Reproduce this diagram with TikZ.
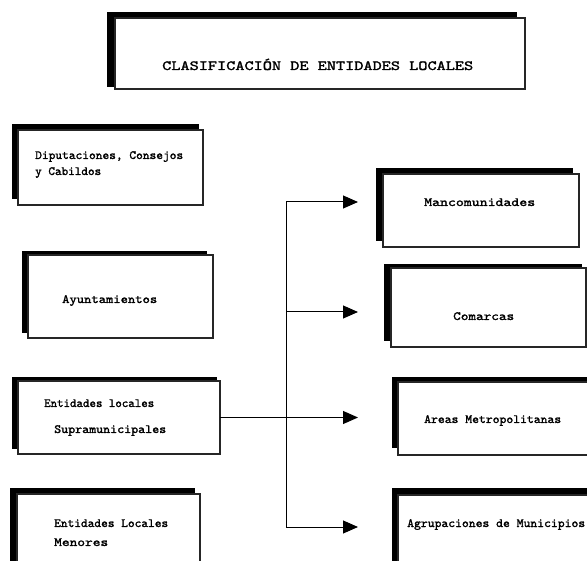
\documentclass[tikz,border=0pt]{standalone}
\usepackage{fontspec}
\newfontfamily\slabfont{lmmono10-regular.otf}[FakeBold=1.6]
\usetikzlibrary{arrows.meta}

% stretch a line of text to a given width (in pt) without changing its height
\newcommand{\fitw}[2]{\resizebox{#1pt}{\height}{#2}}

\tikzset{
  backbar/.style={fill=black, draw=none},
  panel/.style={draw=black!85, line width=1.2pt, fill=white, inner sep=0pt,
                outer sep=0pt, anchor=north west},
  boxtext/.style={font=\slabfont\fontsize{12.5}{15}\selectfont,
                  inner sep=0pt, anchor=base west},
  titletext/.style={font=\slabfont\fontsize{14}{16}\selectfont,
                    inner sep=0pt, anchor=base west},
  link/.style={line width=1pt},
  feed/.style={link, -{Triangle[length=15pt,width=13pt]}},
}

\begin{document}
\begin{tikzpicture}[x=1pt,y=-1pt]
\useasboundingbox (0,0) rectangle (587,561);
\clip (0,0) rectangle (587,561);

% title
\fill[backbar] (107,12) rectangle (517,87);
\node[panel, minimum width=410pt, minimum height=71pt] (title) at (115,18) {};
\node[titletext] (titleT) at (162,70) {\fitw{311}{CLASIFICACIÓN DE ENTIDADES LOCALES}};

% left column
\fill[backbar] (12,124) rectangle (199,199);
\node[panel, minimum width=185pt, minimum height=75pt] (dip) at (18,130) {};
\node[boxtext] (dipA) at (35,159) {\fitw{148}{Diputaciones, Consejos}};
\node[boxtext] (dipB) at (35,175) {\fitw{66}{y Cabildos}};

\fill[backbar] (22,251) rectangle (207,333);
\node[panel, minimum width=185pt, minimum height=83pt] (ayu) at (28,255) {};
\node[boxtext] (ayuT) at (62,303) {\fitw{95}{Ayuntamientos}};

\fill[backbar] (12,377) rectangle (217,449);
\node[panel, minimum width=202pt, minimum height=73pt] (sup) at (18,381) {};
\node[boxtext] (supA) at (44,407) {\fitw{110}{Entidades locales}};
\node[boxtext] (supB) at (54,433) {\fitw{112}{Supramunicipales}};

\fill[backbar] (10,488) rectangle (195,580);
\node[panel, minimum width=183pt, minimum height=96pt] (men) at (17,494) {};
\node[boxtext] (menA) at (54,527) {\fitw{114}{Entidades Locales}};
\node[boxtext] (menB) at (54,546) {\fitw{54}{Menores}};

% right column
\fill[backbar] (376,168) rectangle (573,241);
\node[panel, minimum width=196pt, minimum height=73pt] (man) at (383,174) {};
\node[boxtext] (manT) at (424,206) {\fitw{111}{Mancomunidades}};

\fill[backbar] (384,264) rectangle (582,341);
\node[panel, minimum width=195pt, minimum height=79pt] (com) at (391,268) {};
\node[boxtext] (comT) at (453,320) {\fitw{61}{Comarcas}};

\fill[backbar] (392,377) rectangle (600,448);
\node[panel, minimum width=212pt, minimum height=73pt] (are) at (398,382) {};
\node[boxtext] (areT) at (424,423) {\fitw{137}{Areas Metropolitanas}};

\fill[backbar] (392,488) rectangle (600,580);
\node[panel, minimum width=212pt, minimum height=96pt] (agr) at (398,495) {};
\node[boxtext] (agrT) at (407,527) {\fitw{178}{Agrupaciones de Municipios}};

% connectors
\coordinate (jA) at (286,202);
\coordinate (jB) at (286,312);
\coordinate (jC) at (286,417.5);
\coordinate (jD) at (286,527);
\coordinate (tA) at (358,202);
\coordinate (tB) at (358,312);
\coordinate (tC) at (358,417.5);
\coordinate (tD) at (358,527);

\draw[link] (sup.east) -- (jC);
\draw[link] (jA) -- (jD);
\draw[feed] (jA) -- (tA);
\draw[feed] (jB) -- (tB);
\draw[feed] (jC) -- (tC);
\draw[feed] (jD) -- (tD);
\end{tikzpicture}
\end{document}
